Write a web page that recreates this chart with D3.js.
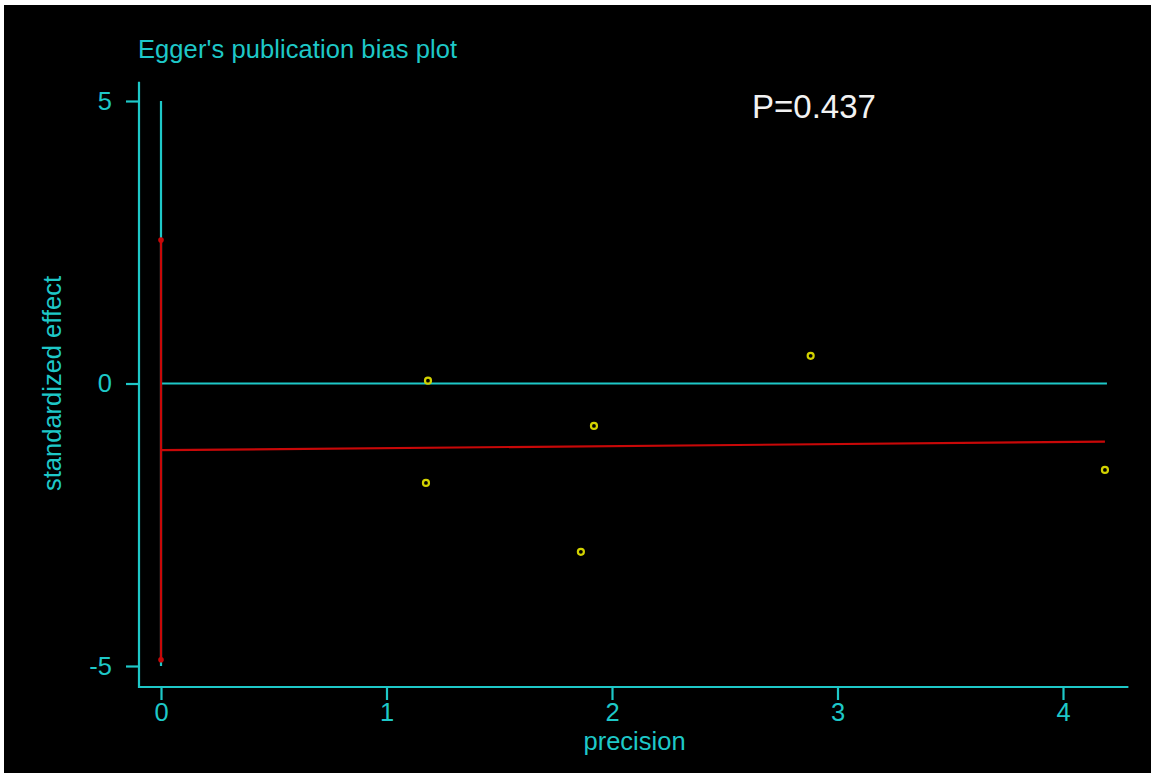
<!doctype html>
<html lang="en-US">
<head>
    <meta charset="UTF-8">
    <title>Egger's publication bias plot</title>
    <script src="https://d3js.org/d3.v7.js" charset="utf-8"></script>
    <style>
        html, body { margin: 0; padding: 0; background: #ffffff; }
        svg { display: block; }
        text { font-family: "Liberation Sans", Arial, sans-serif; }
    </style>
</head>
<body>
    <svg id="cvas" width="1151" height="774"></svg>
    <script>

        // ---- data ---- //
        const precision = [1.184, 1.175, 1.862, 1.920, 2.881, 4.186];
        const std_effect = [0.05, -1.76, -2.98, -0.75, 0.49, -1.53];

        const reg_intercept = -1.18;
        const reg_slope = 0.036;
        const ci_intercept = [-4.89, 2.54];

        const x_ticks = [0, 1, 2, 3, 4];
        const y_ticks = [-5, 0, 5];

        const title_text = "Egger's publication bias plot";
        const p_text = "P=0.437";

        // ---- style ---- //
        const CYAN = "#1ec8c8";
        const RED = "#c80808";
        const YELLOW = "#d2d200";
        const FONT_SIZE = 25.5;

        const svg = d3.select("#cvas");

        // black panel inside a thin white frame
        svg.append("rect")
            .attr("x", 4).attr("y", 5)
            .attr("width", 1147).attr("height", 768)
            .attr("fill", "#000000");

        let x_scale = d3.scaleLinear().domain([0, 4]).range([161, 1063]);
        let y_scale = d3.scaleLinear().domain([-5, 5]).range([666, 101]);

        const axis_x_pos = 139;   // y axis sits left of x=0
        const axis_y_pos = 687;   // x axis sits below y=-5
        const x_max = 4.29;
        const y_max = 5.34;

        // y axis
        let y_axis = svg.append("g")
            .attr("transform", `translate(${axis_x_pos},0)`)
            .call(d3.axisLeft(y_scale).tickValues(y_ticks).tickFormat(d => String(d))
                .tickSize(13).tickPadding(14).tickSizeOuter(0));
        y_axis.select(".domain").remove();

        // x axis
        let x_axis = svg.append("g")
            .attr("transform", `translate(0,${axis_y_pos})`)
            .call(d3.axisBottom(x_scale).tickValues(x_ticks).tickFormat(d => String(d))
                .tickSize(13).tickPadding(3).tickSizeOuter(0));
        x_axis.select(".domain").remove();

        [y_axis, x_axis].forEach(g => {
            g.selectAll("line").attr("stroke", CYAN).attr("stroke-width", 2.2);
            g.selectAll("text")
                .attr("fill", CYAN)
                .style("font-size", FONT_SIZE + "px")
                .style("font-family", "'Liberation Sans', Arial, sans-serif");
        });

        // axis lines (they meet in the corner)
        svg.append("line")
            .attr("x1", axis_x_pos).attr("x2", axis_x_pos)
            .attr("y1", y_scale(y_max)).attr("y2", axis_y_pos + 1)
            .attr("stroke", CYAN).attr("stroke-width", 2.2);
        svg.append("line")
            .attr("x1", axis_x_pos - 1).attr("x2", x_scale(x_max))
            .attr("y1", axis_y_pos).attr("y2", axis_y_pos)
            .attr("stroke", CYAN).attr("stroke-width", 2.2);

        // reference lines at 0
        svg.append("line")
            .attr("x1", x_scale(0)).attr("x2", x_scale(0))
            .attr("y1", y_scale(5)).attr("y2", y_scale(-5))
            .attr("stroke", CYAN).attr("stroke-width", 2.2);
        svg.append("line")
            .attr("x1", x_scale(0)).attr("x2", x_scale(d3.max(precision)) + 2)
            .attr("y1", y_scale(0)).attr("y2", y_scale(0))
            .attr("stroke", CYAN).attr("stroke-width", 2.2);

        // confidence interval of the intercept
        svg.append("line")
            .attr("x1", x_scale(0)).attr("x2", x_scale(0))
            .attr("y1", y_scale(ci_intercept[0])).attr("y2", y_scale(ci_intercept[1]))
            .attr("stroke", RED).attr("stroke-width", 2.2);
        svg.selectAll(".ci_end").data(ci_intercept)
            .enter().append("circle").attr("class", "ci_end")
            .attr("cx", x_scale(0)).attr("cy", d => y_scale(d))
            .attr("r", 2.8)
            .attr("fill", RED);

        // regression line
        let reg_xs = [0, d3.max(precision)];
        let valueline = d3.line()
            .x(d => x_scale(d))
            .y(d => y_scale(reg_intercept + reg_slope * d));
        svg.append("path")
            .attr("d", valueline(reg_xs))
            .attr("fill", "none")
            .attr("stroke", RED).attr("stroke-width", 2.2);

        // studies
        svg.selectAll(".study").data(precision)
            .enter().append("circle").attr("class", "study")
            .attr("cx", d => x_scale(d))
            .attr("cy", (d, i) => y_scale(std_effect[i]))
            .attr("r", 3)
            .attr("fill", "#000000")
            .attr("stroke", YELLOW).attr("stroke-width", 2.2);

        // texts
        svg.append("text")
            .attr("x", 138).attr("y", 58)
            .attr("fill", CYAN)
            .style("font-size", FONT_SIZE + "px")
            .attr("textLength", 319)
            .text(title_text);

        svg.append("text")
            .attr("x", x_scale(2.1)).attr("y", 750)
            .attr("text-anchor", "middle")
            .attr("fill", CYAN)
            .style("font-size", FONT_SIZE + "px")
            .text("precision");

        svg.append("text")
            .attr("transform", `translate(61,${y_scale(0)}) rotate(-90)`)
            .attr("text-anchor", "middle")
            .attr("fill", CYAN)
            .style("font-size", FONT_SIZE + "px")
            .text("standardized effect");

        svg.append("text")
            .attr("x", 752).attr("y", 118)
            .attr("fill", "#f2f2f2")
            .style("font-size", "33px")
            .text(p_text);

    </script>
</body>
</html>
